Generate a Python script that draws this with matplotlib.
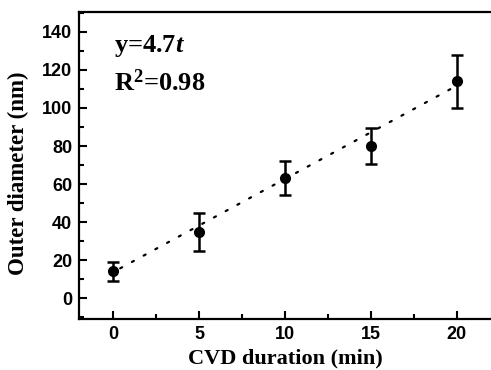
import numpy as np
import matplotlib.pyplot as plt
from matplotlib.ticker import MultipleLocator

# data
duration = [0, 5, 10, 15, 20]
diameter = [14, 35, 63, 80, 114]
diameter_err = [5, 10, 9, 9.5, 14]

plt.rcParams['mathtext.fontset'] = 'custom'
plt.rcParams['mathtext.rm'] = 'Liberation Serif:bold'
plt.rcParams['mathtext.it'] = 'Liberation Serif:bold:italic'
plt.rcParams['mathtext.bf'] = 'Liberation Serif:bold'

fig = plt.figure(figsize=(4.91, 3.70), dpi=100)
# right spine sits at the figure edge (cropped like the original)
ax = fig.add_axes([79 / 491, 1 - 319 / 370, 412 / 491, 307 / 370])

# linear fit drawn as a dotted line
coef = np.polyfit(duration, diameter, 1)
fit_x = np.array([0.4, 19.8])
ax.plot(fit_x, np.polyval(coef, fit_x) + 1.5, color='black', linewidth=1.6,
        linestyle=(0, (1, 5)), dash_capstyle='round')

ax.errorbar(duration, diameter, yerr=diameter_err, fmt='o', color='black',
            markersize=7, elinewidth=1.8, capsize=4.5, capthick=1.8)

ax.set_xlim(-2, 22)
ax.set_ylim(-11, 150.5)
ax.xaxis.set_major_locator(MultipleLocator(5))
ax.xaxis.set_minor_locator(MultipleLocator(2.5))
ax.yaxis.set_major_locator(MultipleLocator(20))
ax.yaxis.set_minor_locator(MultipleLocator(10))
ax.set_yticks(range(0, 141, 20))
ax.set_xticks(range(0, 21, 5))

ax.tick_params(which='both', direction='in', top=False, right=False, width=1.5)
ax.tick_params(which='major', length=6, labelsize=13, pad=5)
ax.tick_params(which='minor', length=3.5)
for lab in ax.get_xticklabels() + ax.get_yticklabels():
    lab.set_fontweight('bold')
    lab.set_family('Liberation Sans')

for sp in ax.spines.values():
    sp.set_linewidth(1.6)
ax.spines['right'].set_color('#d8d8d8')
ax.spines['right'].set_linewidth(1.0)

serif = 'Liberation Serif'
ax.set_xlabel('CVD duration (min)', fontsize=16, fontweight='bold', family=serif, labelpad=4)
ax.set_ylabel('Outer diameter (nm)', fontsize=16.5, fontweight='bold', family=serif)
ax.yaxis.set_label_coords(-0.122, 0.476)

ax.text(0.05, 132.5, r'y=4.7$t$', fontsize=19, fontweight='bold', family=serif, va='center')
ax.text(0.05, 113.5, r'R$^2$=0.98', fontsize=19, fontweight='bold', family=serif, va='center')

fig.savefig('out.png', dpi=100)
